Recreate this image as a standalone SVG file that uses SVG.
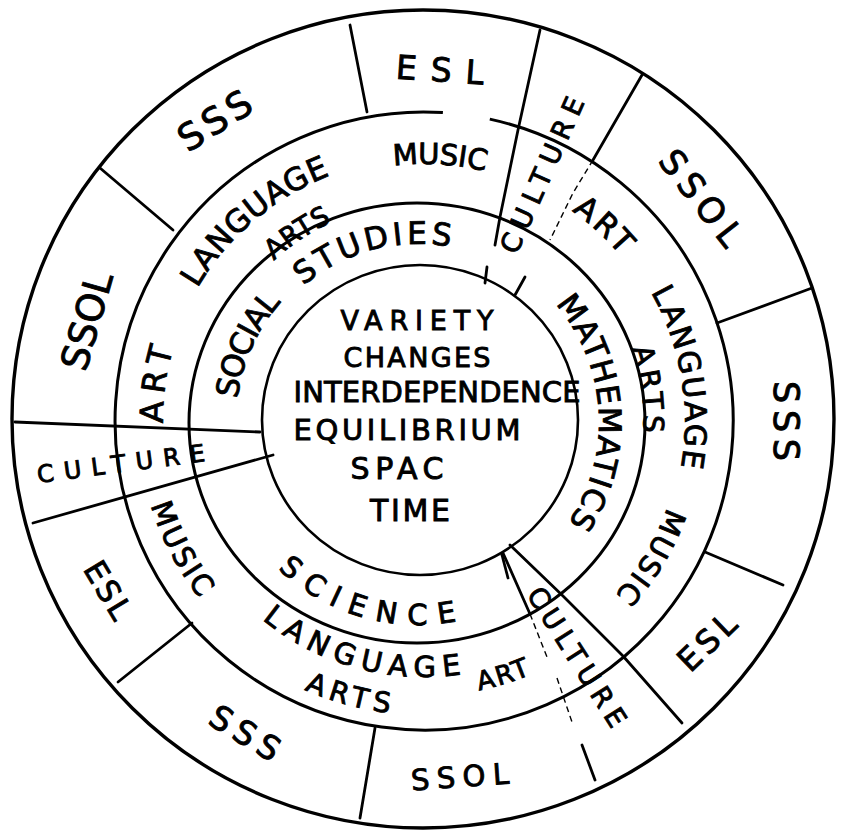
<svg xmlns="http://www.w3.org/2000/svg" width="841" height="835" viewBox="0 0 841 835">
<style>
.ring{fill:none;stroke:#000;stroke-width:3}
.div{fill:none;stroke:#000;stroke-width:2.8;stroke-linecap:round;stroke-linejoin:round}
.faint{fill:none;stroke:#000;stroke-width:1.4;stroke-dasharray:6 4}
text{font-family:"DejaVu Sans","Liberation Sans",sans-serif;fill:#000;stroke:#000;stroke-width:0.9;dominant-baseline:central}
.c{text-anchor:middle}
</style>
<defs>
<path id="pLangTL" d="M154.2,375.7 A274,274 0 0 1 423.1,147"/>
<path id="pArtsTL" d="M227,302.5 A229,229 0 0 1 388.2,194.8"/>
<path id="pMusicT" d="M348.2,165 A267,267 0 0 1 530.5,176.1"/>
<path id="pArtTR" d="M547.7,183.3 A268,268 0 0 1 650,277"/>
<path id="pLangR" d="M599.9,213.6 A272,272 0 0 1 658.8,558.2"/>
<path id="pArtsR" d="M617.4,295.6 A229,229 0 0 1 643.1,487.5"/>
<path id="pMusicLR" d="M687.2,471.7 A268,268 0 0 1 593,629"/>
<path id="pArtB" d="M434.2,686.8 A266,266 0 0 0 565.8,646.1"/>
<path id="pLangB" d="M234.5,577.8 A246,246 0 0 0 506.5,652.8"/>
<path id="pArtsB" d="M259.5,652.5 A284,284 0 0 0 446.7,704.1"/>
<path id="pMusicL" d="M150.5,458 A276,276 0 0 0 238.3,625.1"/>
<path id="pArtL" d="M154.1,455.1 A272,272 0 0 1 173.2,315.6"/>
<path id="pSocial" d="M225,424.4 A193,193 0 0 1 292.1,275.7"/>
<path id="pStudies" d="M273.6,300 A189,189 0 0 1 483.3,244.6"/>
<path id="pMath" d="M532.5,267.9 A192,192 0 0 1 549.9,561.5"/>
<path id="pScience" d="M267.4,542.6 A193,193 0 0 0 479.9,604.8"/>
</defs>
<rect width="841" height="835" fill="#fff"/>

<g id="rings">
<ellipse class="ring" cx="423" cy="419" rx="411" ry="409" style="stroke-width:3.4"/>
<path class="ring" d="M489.8,119.1 A309,309 0 1 1 442.9,112.6"/>
<ellipse class="ring" cx="417" cy="423" rx="228" ry="220"/>
<ellipse class="ring" cx="420" cy="420" rx="158" ry="155" style="stroke-width:2.6"/>
</g>

<g id="connectors">
<line class="div" x1="350" y1="25" x2="367" y2="112"/>
<polyline class="div" points="540,30 518,130 500,217 495,245"/>
<line class="div" x1="642" y1="75" x2="593" y2="160"/>
<polyline class="faint" points="593,160 573,193 550,240"/>
<line class="div" x1="812" y1="288" x2="717" y2="323"/>
<line class="div" x1="705" y1="552" x2="783" y2="585"/>
<polyline class="div" points="510,545 563,596 623,656 682,723"/>
<line class="div" x1="503" y1="553" x2="530" y2="614"/>
<line class="faint" x1="530" y1="614" x2="547" y2="657"/>
<line class="faint" x1="557" y1="678" x2="573" y2="725"/>
<line class="div" x1="582" y1="745" x2="595" y2="780"/>
<line class="div" x1="375" y1="728" x2="360" y2="818"/>
<line class="div" x1="192" y1="623" x2="118" y2="682"/>
<line class="div" x1="33" y1="523" x2="273" y2="455"/>
<line class="div" x1="15" y1="422" x2="260" y2="432"/>
<line class="div" x1="100" y1="168" x2="173" y2="230"/>
<line class="div" x1="487" y1="267" x2="485" y2="283"/>
<line class="div" x1="525" y1="277" x2="515" y2="295"/>
<line class="div" x1="502" y1="555" x2="508" y2="578"/>
</g>

<g id="outer-labels">
<text class="c" font-size="33" textLength="88" lengthAdjust="spacing" transform="translate(440,70) rotate(4)">ESL</text>
<text class="c" font-size="37" textLength="80" lengthAdjust="spacing" transform="translate(215,121) rotate(-32.5)">SSS</text>
<text class="c" font-size="38" textLength="100" lengthAdjust="spacing" transform="translate(87,321) rotate(-74)">SSOL</text>
<text class="c" font-size="24" textLength="169" lengthAdjust="spacing" transform="translate(121,464) rotate(-7.5)">CULTURE</text>
<text class="c" font-size="31" textLength="62" lengthAdjust="spacing" transform="translate(108,590) rotate(59)">ESL</text>
<text class="c" font-size="33" textLength="76" lengthAdjust="spacing" transform="translate(245,733) rotate(31)">SSS</text>
<text class="c" font-size="29" textLength="98" lengthAdjust="spacing" transform="translate(460,777) rotate(-4)">SSOL</text>
<text class="c" font-size="32" textLength="68" lengthAdjust="spacing" transform="translate(707,642) rotate(-44)">ESL</text>
<text class="c" font-size="35" textLength="80" lengthAdjust="spacing" transform="translate(786,421) rotate(90)">SSS</text>
<text class="c" font-size="35" textLength="112" lengthAdjust="spacing" transform="translate(701,198) rotate(52)">SSOL</text>
<text class="c" font-size="27" textLength="168" lengthAdjust="spacing" transform="translate(542,175) rotate(-66)">CULTURE</text>
<text class="c" font-size="27" textLength="160" lengthAdjust="spacing" transform="translate(577,657) rotate(57.6)">CULTURE</text>
</g>

<g id="middle-labels">
<text font-size="31"><textPath href="#pLangTL" startOffset="50%" class="c" textLength="184" lengthAdjust="spacing">LANGUAGE</textPath></text>
<text font-size="27"><textPath href="#pArtsTL" startOffset="50%" class="c" textLength="72" lengthAdjust="spacing">ARTS</textPath></text>
<text font-size="29"><textPath href="#pMusicT" startOffset="50%" class="c" textLength="95" lengthAdjust="spacing">MUSIC</textPath></text>
<text font-size="31"><textPath href="#pArtTR" startOffset="50%" class="c" textLength="68" lengthAdjust="spacing">ART</textPath></text>
<text font-size="30"><textPath href="#pLangR" startOffset="50%" class="c" textLength="188" lengthAdjust="spacing">LANGUAGE</textPath></text>
<text font-size="28"><textPath href="#pArtsR" startOffset="50%" class="c" textLength="88" lengthAdjust="spacing">ARTS</textPath></text>
<text font-size="29"><textPath href="#pMusicLR" startOffset="50%" class="c" textLength="105" lengthAdjust="spacing">MUSIC</textPath></text>
<text font-size="26"><textPath href="#pArtB" startOffset="50%" class="c" textLength="53" lengthAdjust="spacing">ART</textPath></text>
<text font-size="29"><textPath href="#pLangB" startOffset="50%" class="c" textLength="205" lengthAdjust="spacing">LANGUAGE</textPath></text>
<text font-size="28"><textPath href="#pArtsB" startOffset="50%" class="c" textLength="86" lengthAdjust="spacing">ARTS</textPath></text>
<text font-size="29"><textPath href="#pMusicL" startOffset="50%" class="c" textLength="103" lengthAdjust="spacing">MUSIC</textPath></text>
<text font-size="32"><textPath href="#pArtL" startOffset="50%" class="c" textLength="78" lengthAdjust="spacing">ART</textPath></text>
</g>

<g id="inner-labels">
<text font-size="31"><textPath href="#pSocial" startOffset="50%" class="c" textLength="113" lengthAdjust="spacing">SOCIAL</textPath></text>
<text font-size="31"><textPath href="#pStudies" startOffset="50%" class="c" textLength="165" lengthAdjust="spacing">STUDIES</textPath></text>
<text font-size="31"><textPath href="#pMath" startOffset="50%" class="c" textLength="248" lengthAdjust="spacing">MATHEMATICS</textPath></text>
<text font-size="29"><textPath href="#pScience" startOffset="50%" class="c" textLength="185" lengthAdjust="spacing">SCIENCE</textPath></text>
</g>

<g id="centre">
<text class="c" x="417" y="320" font-size="27" textLength="153" lengthAdjust="spacing">VARIETY</text>
<text class="c" x="417" y="357" font-size="27" textLength="147" lengthAdjust="spacing">CHANGES</text>
<text class="c" x="437" y="392" font-size="29" textLength="287" lengthAdjust="spacing">INTERDEPENDENCE</text>
<text class="c" x="407" y="430" font-size="29" textLength="227" lengthAdjust="spacing">EQUILIBRIUM</text>
<text class="c" x="397" y="468" font-size="30" textLength="93" lengthAdjust="spacing">SPAC</text>
<text class="c" x="410" y="510" font-size="30" textLength="80" lengthAdjust="spacing">TIME</text>
</g>
</svg>
